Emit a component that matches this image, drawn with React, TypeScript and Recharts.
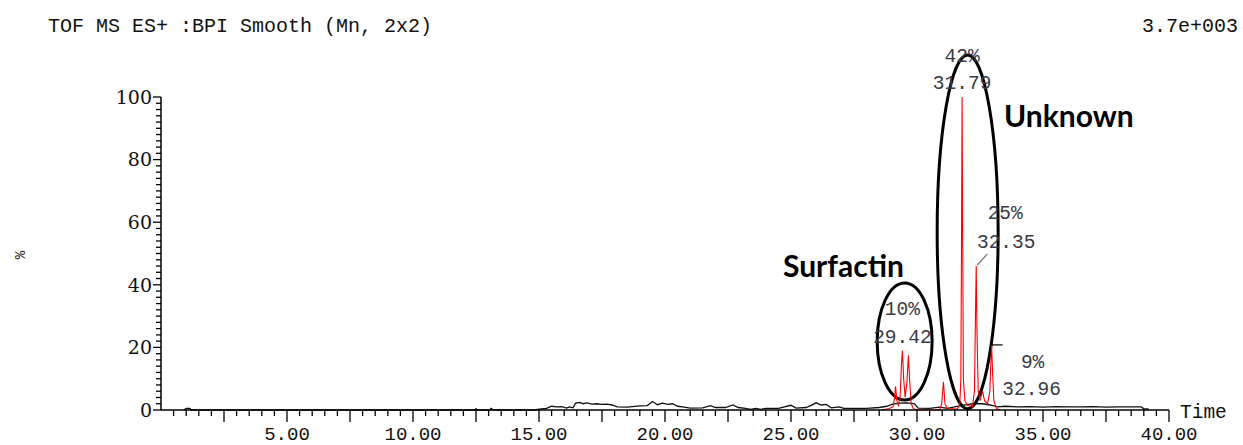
import React from 'react';
import { LineChart, Line, XAxis, YAxis, ReferenceArea, ReferenceDot } from 'recharts';

// Base peak intensity chromatogram (black), % of 3.7e+003
const blackTrace = [
  { t: 0.9, v: 0 }, { t: 1.0, v: 0.5 }, { t: 1.15, v: 0.5 }, { t: 1.2, v: 0 },
  { t: 12.45, v: 0 }, { t: 12.5, v: 0.4 }, { t: 12.55, v: 0 },
  { t: 13.05, v: 0 }, { t: 13.1, v: 0.5 }, { t: 13.2, v: 0 },
  { t: 14.8, v: 0 }, { t: 15.0, v: 0.3 }, { t: 15.3, v: 0.5 }, { t: 15.5, v: 1.2 },
  { t: 15.7, v: 1.0 }, { t: 15.9, v: 1.1 }, { t: 16.1, v: 0.6 }, { t: 16.2, v: 1.0 },
  { t: 16.35, v: 0.7 }, { t: 16.45, v: 2.2 }, { t: 16.6, v: 2.4 }, { t: 16.75, v: 2.0 },
  { t: 16.9, v: 2.3 }, { t: 17.1, v: 1.9 }, { t: 17.3, v: 2.0 }, { t: 17.5, v: 1.8 },
  { t: 17.7, v: 1.9 }, { t: 17.9, v: 1.6 }, { t: 18.1, v: 1.0 }, { t: 18.5, v: 0.9 },
  { t: 19.0, v: 1.3 }, { t: 19.3, v: 1.4 }, { t: 19.5, v: 2.7 }, { t: 19.7, v: 1.7 },
  { t: 19.9, v: 2.2 }, { t: 20.1, v: 1.8 }, { t: 20.3, v: 2.0 }, { t: 20.5, v: 1.2 },
  { t: 20.7, v: 1.0 }, { t: 21.0, v: 0.6 }, { t: 21.5, v: 0.7 }, { t: 21.8, v: 1.4 },
  { t: 22.0, v: 0.8 }, { t: 22.4, v: 0.8 }, { t: 22.7, v: 1.6 }, { t: 22.9, v: 0.8 },
  { t: 23.2, v: 0.5 }, { t: 23.4, v: 0.2 }, { t: 23.6, v: 0.5 }, { t: 23.8, v: 0.2 },
  { t: 24.0, v: 0.5 }, { t: 24.5, v: 0.5 }, { t: 25.0, v: 1.5 }, { t: 25.2, v: 0.6 },
  { t: 25.6, v: 0.8 }, { t: 25.8, v: 1.5 }, { t: 26.0, v: 2.3 }, { t: 26.2, v: 1.6 },
  { t: 26.4, v: 1.8 }, { t: 26.6, v: 0.7 }, { t: 26.9, v: 1.0 }, { t: 27.1, v: 0.5 },
  { t: 28.0, v: 0.5 }, { t: 28.5, v: 0.8 }, { t: 28.8, v: 1.2 }, { t: 29.0, v: 1.8 },
  { t: 29.3, v: 2.2 }, { t: 29.6, v: 2.3 }, { t: 29.9, v: 2.0 }, { t: 30.05, v: 0.6 },
  { t: 30.5, v: 0.5 }, { t: 30.9, v: 0.9 }, { t: 31.2, v: 0.5 }, { t: 31.5, v: 1.0 },
  { t: 31.8, v: 1.5 }, { t: 32.2, v: 2.0 }, { t: 32.6, v: 2.0 }, { t: 32.9, v: 1.6 },
  { t: 33.2, v: 1.0 }, { t: 33.5, v: 1.2 }, { t: 34.0, v: 1.0 }, { t: 34.5, v: 1.1 },
  { t: 35.0, v: 0.9 }, { t: 35.5, v: 1.1 }, { t: 36.0, v: 1.0 }, { t: 36.5, v: 1.0 },
  { t: 37.0, v: 1.1 }, { t: 37.5, v: 0.9 }, { t: 38.0, v: 1.0 }, { t: 38.5, v: 1.0 },
  { t: 38.9, v: 1.0 }, { t: 39.0, v: 0.4 }, { t: 39.2, v: 0.3 },
];

// Overlaid extracted trace (red)
const redTrace = [
  { t: 28.6, v: 0 }, { t: 28.9, v: 0.5 }, { t: 29.05, v: 1 }, { t: 29.11, v: 4 },
  { t: 29.15, v: 7.6 }, { t: 29.2, v: 3 }, { t: 29.26, v: 1.5 }, { t: 29.33, v: 4 },
  { t: 29.38, v: 14 }, { t: 29.42, v: 19 }, { t: 29.47, v: 10 }, { t: 29.53, v: 4 },
  { t: 29.6, v: 9 }, { t: 29.66, v: 17.5 }, { t: 29.71, v: 9 }, { t: 29.77, v: 2 },
  { t: 29.85, v: 0.5 }, { t: 30.0, v: 0 }, { t: 30.9, v: 0 }, { t: 30.98, v: 2 },
  { t: 31.05, v: 9 }, { t: 31.11, v: 2 }, { t: 31.2, v: 0.5 }, { t: 31.6, v: 0.3 },
  { t: 31.7, v: 2 }, { t: 31.74, v: 10 }, { t: 31.77, v: 60 }, { t: 31.79, v: 100 },
  { t: 31.81, v: 60 }, { t: 31.84, v: 10 }, { t: 31.9, v: 3 }, { t: 32.0, v: 1.5 },
  { t: 32.2, v: 1 }, { t: 32.28, v: 6 }, { t: 32.32, v: 30 }, { t: 32.35, v: 46 },
  { t: 32.38, v: 25 }, { t: 32.43, v: 6 }, { t: 32.5, v: 3 }, { t: 32.6, v: 6 },
  { t: 32.68, v: 3 }, { t: 32.8, v: 2 }, { t: 32.89, v: 6 }, { t: 32.93, v: 15 },
  { t: 32.96, v: 20.8 }, { t: 33.0, v: 12 }, { t: 33.05, v: 3 }, { t: 33.15, v: 0.5 },
  { t: 33.3, v: 0 },
];

const peakLabels = [
  { t: 29.42, v: 19, pct: '10%', rt: '29.42' },
  { t: 31.79, v: 100, pct: '42%', rt: '31.79' },
  { t: 32.35, v: 46, pct: '25%', rt: '32.35' },
  { t: 32.96, v: 20.8, pct: '9%', rt: '32.96' },
];

const groups = [
  { name: 'Surfactin', cx: 29.51, cy: 21.9, rx: 1.09, ry: 18.7 },
  { name: 'Unknown', cx: 32.01, cy: 56.9, rx: 1.21, ry: 56.5 },
];

const xLabelValues = [5, 10, 15, 20, 25, 30, 35, 40];
const xTickLabels = ['5.00', '10.00', '15.00', '20.00', '25.00', '30.00', '35.00', '40.00'];
const yLabelValues = [0, 20, 40, 60, 80, 100];
const yTickLabels = ['0', '20', '40', '60', '80', '100'];

const xTicks: number[] = [];
for (let i = 1; i <= 80; i++) xTicks.push(i * 0.5);
const yTicks: number[] = [];
for (let i = 0; i <= 50; i++) yTicks.push(i * 2);

const MONO = '"Liberation Mono", "DejaVu Sans Mono", monospace';
const SERIF = '"DejaVu Serif", "Liberation Serif", serif';

// label offsets (style), per peak index
const labelStyle = [
  { pdx: 0, pdy: -43, rdx: 0, rdy: -15, leader: null as null | number[] },
  { pdx: 0, pdy: -42, rdx: 0, rdy: -15, leader: null as null | number[] },
  { pdx: 29, pdy: -54, rdx: 30, rdy: -25, leader: [1, -1, 11, -12] },
  { pdx: 41, pdy: 16, rdx: 40, rdy: 43, leader: [0, 0, 11, 0] },
];

const XTick = (props: any) => {
  const { x, y, payload } = props;
  const v = payload.value as number;
  const major = Math.abs(v / 2.5 - Math.round(v / 2.5)) < 1e-6;
  const idx = xLabelValues.indexOf(v);
  return (
    <g>
      <line x1={x} x2={x} y1={y} y2={y + (major ? 12 : 6)} stroke="#000" strokeWidth={1.3} />
      {idx >= 0 && (
        <text x={x} y={y + 30} textAnchor="middle" fontFamily={MONO} fontSize={19} fill="#111">
          {xTickLabels[idx]}
        </text>
      )}
    </g>
  );
};

const YTick = (props: any) => {
  const { x, y, payload } = props;
  const v = payload.value as number;
  const idx = yLabelValues.indexOf(v);
  const major = idx >= 0;
  return (
    <g>
      <line x1={x - (major ? 8 : 5)} x2={x} y1={y} y2={y} stroke="#000" strokeWidth={1.3} />
      {major && (
        <text x={x - 9} y={y} dy="0.36em" textAnchor="end" fontFamily={SERIF} fontSize={19} fill="#111">
          {yTickLabels[idx]}
        </text>
      )}
    </g>
  );
};

const EllipseShape = (props: any) => {
  const { x, y, width, height } = props;
  return (
    <ellipse
      cx={x + width / 2}
      cy={y + height / 2}
      rx={Math.abs(width) / 2}
      ry={Math.abs(height) / 2}
      fill="none"
      stroke="#000"
      strokeWidth={3}
    />
  );
};

const makePeakLabel = (i: number) => (props: any) => {
  const { cx, cy } = props;
  const s = labelStyle[i];
  const p = peakLabels[i];
  return (
    <g>
      {s.leader && (
        <line
          x1={cx + s.leader[0]} y1={cy + s.leader[1]} x2={cx + s.leader[2]} y2={cy + s.leader[3]}
          stroke={i === 3 ? '#000' : '#777'} strokeWidth={1.2}
        />
      )}
      <text x={cx + s.pdx} y={cy + s.pdy} dy="0.36em" textAnchor="middle" fontFamily={MONO} fontSize={19.5} fill="#3a3a48">
        {p.pct}
      </text>
      <text x={cx + s.rdx} y={cy + s.rdy} dy="0.36em" textAnchor="middle" fontFamily={MONO} fontSize={19.5} fill="#3a3a48">
        {p.rt}
      </text>
    </g>
  );
};

export default function App() {
  return (
    <div style={{ position: 'absolute', left: 0, top: 0, width: 1243, height: 445, background: '#fff' }}>
      <LineChart width={1243} height={445} margin={{ top: 97, right: 74, bottom: 0, left: 101 }}>
        <XAxis
          dataKey="t"
          type="number"
          domain={[0, 40]}
          ticks={xTicks}
          interval={0}
          tick={<XTick />}
          tickLine={false}
          tickSize={0}
          tickMargin={0}
          height={35}
          axisLine={{ stroke: '#000', strokeWidth: 1.5 }}
          allowDuplicatedCategory={false}
        />
        <YAxis
          type="number"
          domain={[0, 100]}
          ticks={yTicks}
          interval={0}
          tick={<YTick />}
          tickLine={false}
          tickSize={0}
          tickMargin={0}
          width={60}
          axisLine={{ stroke: '#000', strokeWidth: 1.5 }}
        />
        <Line
          data={blackTrace}
          dataKey="v"
          type="linear"
          stroke="#111"
          strokeWidth={1.3}
          dot={false}
          isAnimationActive={false}
        />
        <Line
          data={redTrace}
          dataKey="v"
          type="linear"
          stroke="#ff0000"
          strokeWidth={1.1}
          dot={false}
          isAnimationActive={false}
        />
        {groups.map((g) => (
          <ReferenceArea
            key={g.name}
            x1={g.cx - g.rx}
            x2={g.cx + g.rx}
            y1={g.cy - g.ry}
            y2={g.cy + g.ry}
            ifOverflow="visible"
            shape={<EllipseShape />}
          />
        ))}
        {peakLabels.map((p, i) => (
          <ReferenceDot key={p.rt} x={p.t} y={p.v} r={0} ifOverflow="visible" shape={makePeakLabel(i)} />
        ))}
      </LineChart>
      <svg width={1243} height={445} style={{ position: 'absolute', left: 0, top: 0, pointerEvents: 'none' }}>
        <text x={48} y={32} fontFamily={MONO} fontSize={20} fill="#111">TOF MS ES+ :BPI Smooth (Mn, 2x2)</text>
        <text x={1238} y={32} textAnchor="end" fontFamily={MONO} fontSize={20} fill="#111">3.7e+003</text>
        <text x={1180} y={418} fontFamily={MONO} fontSize={19.5} fill="#111">Time</text>
        <text x={20} y={255} textAnchor="middle" fontFamily={MONO} fontSize={14} fill="#111" transform="rotate(-90 20 255)" dy="0.35em">%</text>
        <text x={783} y={277} fontFamily='Lato, "Open Sans", sans-serif' fontWeight={700} fontSize={30} fill="#000">Surfactin</text>
        <text x={1004} y={127} fontFamily='Lato, "Open Sans", sans-serif' fontWeight={700} fontSize={30} fill="#000">Unknown</text>
      </svg>
    </div>
  );
}
